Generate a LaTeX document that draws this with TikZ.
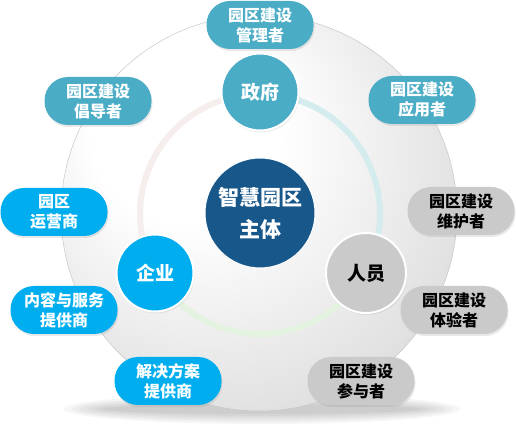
\documentclass[tikz,border=0pt]{standalone}
\usepackage{fontspec}
\newfontfamily\cjk{Noto Sans CJK SC}
\usetikzlibrary{shadows}
\definecolor{govteal}{HTML}{4BACC6}
\definecolor{entblue}{HTML}{00AEEF}
\definecolor{pplgrey}{HTML}{CACACA}
\definecolor{coreblue}{HTML}{17578A}
\definecolor{ringcyan}{HTML}{D4ECEE}
\definecolor{ringgreen}{HTML}{E3F3DF}
\definecolor{ringpink}{HTML}{F6EEEC}
\pgfdeclareradialshading{diskshade}{\pgfpoint{-12bp}{14bp}}{color(0bp)=(white); color(12bp)=(white); color(38bp)=(black!16); color(52bp)=(black!30)}
\tikzset{
  pill/.style={rectangle, rounded corners=23.5pt, minimum width=107pt,
    minimum height=48pt, inner sep=0pt, align=center,
    font=\cjk\bfseries\fontsize{16}{20}\selectfont,
    drop shadow={opacity=0.18, shadow xshift=1pt, shadow yshift=-2pt}},
  govpill/.style={pill, fill=govteal, text=white},
  entpill/.style={pill, fill=entblue, text=white},
  pplpill/.style={pill, fill=pplgrey, text=black},
  role/.style={circle, minimum size=77pt, inner sep=0pt, draw=white,
    line width=2pt, font=\cjk\bfseries\fontsize{19}{22}\selectfont,
    drop shadow={opacity=0.15, shadow xshift=1pt, shadow yshift=-2pt}},
  ringarc/.style={line width=6pt},
}
\begin{document}
\begin{tikzpicture}[x=1pt, y=1pt]
\useasboundingbox (0,0) rectangle (516,425);
% shadow under the disk
\foreach \i in {1,...,6}
  \fill[black, opacity=0.035] (262,16) ellipse ({150+8*\i} and {3+2*\i});
% big disk
\node[circle, minimum size=396pt, inner sep=0pt, shading=diskshade,
  draw=black!22, line width=0.5pt] (disk) at (259,212) {};
% ring
\coordinate (ringc) at (260,211);
\draw[ringarc, ringcyan] (ringc) ++(90:120) arc[start angle=90, end angle=-30, radius=120];
\draw[ringarc, ringgreen] (ringc) ++(-30:120) arc[start angle=-30, end angle=-150, radius=120];
\draw[ringarc, ringpink] (ringc) ++(-150:120) arc[start angle=-150, end angle=-270, radius=120];
% core
\node[circle, minimum size=110pt, inner sep=0pt, fill=coreblue, draw=white,
  line width=1pt, text=white, align=center,
  font=\cjk\bfseries\fontsize{21}{32}\selectfont] (core) at (260,212) {智慧园区\\主体};
% roles
\node[role, fill=govteal, text=white] (gov) at (260,333) {政府};
\node[role, fill=entblue, text=white] (ent) at (155,152) {企业};
\node[role, fill=pplgrey, text=black, minimum size=80pt] (ppl) at (366,152) {人员};
% government
\node[govpill] (govmgr) at (260,400) {园区建设\\管理者};
\node[govpill] (govadv) at (98,324) {园区建设\\倡导者};
\node[govpill] (govuse) at (422,325) {园区建设\\应用者};
% enterprise
\node[entpill] (entops) at (54,213) {园区\\运营商};
\node[entpill] (entsvc) at (64,115) {内容与服务\\提供商};
\node[entpill] (entsol) at (168,44) {解决方案\\提供商};
% people
\node[pplpill] (pplmnt) at (461,214) {园区建设\\维护者};
\node[pplpill] (pplexp) at (454,115) {园区建设\\体验者};
\node[pplpill] (pplpar) at (361,44) {园区建设\\参与者};
\end{tikzpicture}
\end{document}
